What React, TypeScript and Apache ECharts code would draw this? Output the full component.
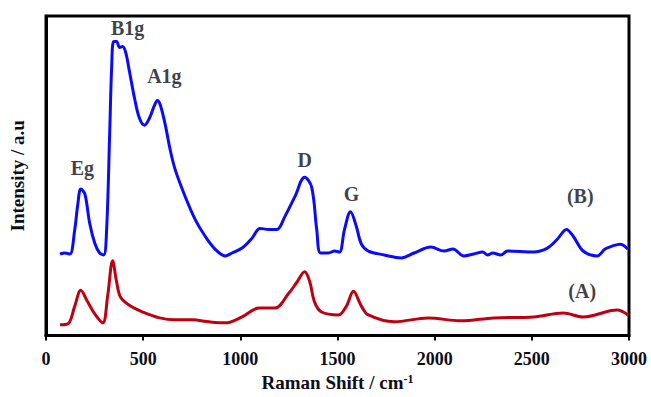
import React, { useEffect, useRef } from "react";
import * as echarts from "echarts";

// Raman shift (cm^-1) and intensity (a.u.) for spectrum (B)
const shiftB = [72, 97, 123, 148, 164, 179, 200, 225, 251, 276, 297, 312, 328, 338, 348, 363, 379, 394, 410, 430, 456, 481, 507, 532, 558, 573, 589, 614, 640, 666, 717, 768, 819, 870, 922, 957, 1009, 1060, 1101, 1147, 1188, 1229, 1280, 1331, 1367, 1393, 1413, 1454, 1485, 1510, 1536, 1567, 1597, 1623, 1659, 1741, 1828, 1894, 1981, 2048, 2094, 2150, 2201, 2247, 2273, 2299, 2340, 2375, 2509, 2580, 2631, 2678, 2713, 2764, 2836, 2877, 2913, 2954, 2995];
const intensityB = [83, 84, 83, 108, 134, 149, 144, 114, 94, 84, 82, 108, 208, 274, 299, 299, 293, 294, 288, 268, 241, 221, 214, 221, 234, 239, 234, 214, 188, 168, 141, 118, 101, 88, 81, 84, 89, 99, 109, 108, 108, 121, 141, 161, 151, 108, 84, 84, 86, 85, 108, 126, 111, 93, 86, 82, 79, 84, 90, 86, 88, 81, 83, 85, 82, 84, 82, 86, 85, 89, 98, 108, 101, 86, 81, 88, 91, 93, 88];

// Spectrum (A)
const shiftA = [72, 113, 148, 179, 210, 251, 292, 317, 343, 363, 384, 435, 497, 584, 666, 753, 840, 922, 1009, 1096, 1178, 1249, 1290, 1331, 1357, 1382, 1418, 1505, 1546, 1582, 1623, 1659, 1792, 1966, 2135, 2304, 2509, 2662, 2764, 2939, 2995];
const intensityA = [11, 12, 30, 46, 36, 22, 13, 40, 76, 55, 39, 30, 24, 18, 16, 16, 14, 13, 19, 28, 28, 43, 54, 65, 55, 34, 24, 21, 30, 45, 30, 21, 14, 18, 15, 18, 19, 23, 19, 26, 21];

// Peak annotations
const annotationNames = ["Eg", "B1g", "A1g", "D", "G", "(B)", "(A)"];
const annotationX = [187, 420, 609, 1331, 1572, 2749, 2759];
const annotationY = [170, 313, 264, 179, 144, 142, 45];

const xTicks = { min: 0, max: 3000, interval: 500 };

const FONT = "'Liberation Serif', 'Times New Roman', serif";
const INK = "#0d0d1a";

export default function App() {
  const ref = useRef<HTMLDivElement>(null);
  useEffect(() => {
    if (!ref.current) return;
    const chart = echarts.init(ref.current, undefined, { renderer: "svg" });
    const pairs = (xs: number[], ys: number[]) => xs.map((x, i) => [x, ys[i]]);
    chart.setOption({
      animation: false,
      backgroundColor: "#ffffff",
      grid: {
        left: 43,
        right: 22,
        top: 16,
        bottom: 56,
        show: true,
        borderColor: "#000",
        borderWidth: 3,
      },
      xAxis: {
        type: "value",
        min: xTicks.min,
        max: xTicks.max,
        interval: xTicks.interval,
        splitLine: { show: false },
        axisLine: { show: true, lineStyle: { color: "#000", width: 3 } },
        axisTick: { show: true, inside: false, length: 5, lineStyle: { color: "#000", width: 2 } },
        axisLabel: {
          color: INK,
          fontFamily: FONT,
          fontWeight: "bold",
          fontSize: 18,
          margin: 14,
          formatter: (v: number) => String(v),
        },
        name: "Raman Shift / cm{sup|-1}",
        nameLocation: "middle",
        nameGap: 34,
        nameTextStyle: {
          color: INK,
          fontFamily: FONT,
          fontWeight: "bold",
          fontSize: 19,
          rich: {
            sup: {
              fontFamily: FONT,
              fontWeight: "bold",
              fontSize: 12,
              color: INK,
              verticalAlign: "top",
              padding: [0, 0, 8, 0],
            },
          },
        },
      },
      yAxis: {
        type: "value",
        min: 0,
        max: 325,
        splitLine: { show: false },
        axisLine: { show: true, lineStyle: { color: "#000", width: 3 } },
        axisTick: { show: false },
        axisLabel: { show: false },
        name: "Intensity / a.u",
        nameLocation: "middle",
        nameGap: 19,
        nameTextStyle: {
          color: INK,
          fontFamily: FONT,
          fontWeight: "bold",
          fontSize: 19,
        },
      },
      series: [
        {
          type: "line",
          name: "A",
          data: pairs(shiftA, intensityA),
          smooth: 0.35,
          showSymbol: false,
          lineStyle: { color: "#c00010", width: 3 },
          itemStyle: { color: "#c00010" },
        },
        {
          type: "line",
          name: "B",
          data: pairs(shiftB, intensityB),
          smooth: 0.35,
          showSymbol: false,
          lineStyle: { color: "#0a0aff", width: 3 },
          itemStyle: { color: "#0a0aff" },
        },
        {
          type: "scatter",
          name: "labels",
          data: annotationNames.map((n, i) => ({ name: n, value: [annotationX[i], annotationY[i]] })),
          symbolSize: 1,
          itemStyle: { color: "rgba(0,0,0,0)" },
          label: {
            show: true,
            position: "inside",
            formatter: (p: any) => p.name,
            color: INK,
            fontFamily: FONT,
            fontWeight: "bold",
            fontSize: 20,
          },
          silent: true,
          z: 5,
        },
      ],
    });
    return () => chart.dispose();
  }, []);
  return <div ref={ref} style={{ width: 651, height: 397, position: "absolute", left: 0, top: 0 }} />;
}
